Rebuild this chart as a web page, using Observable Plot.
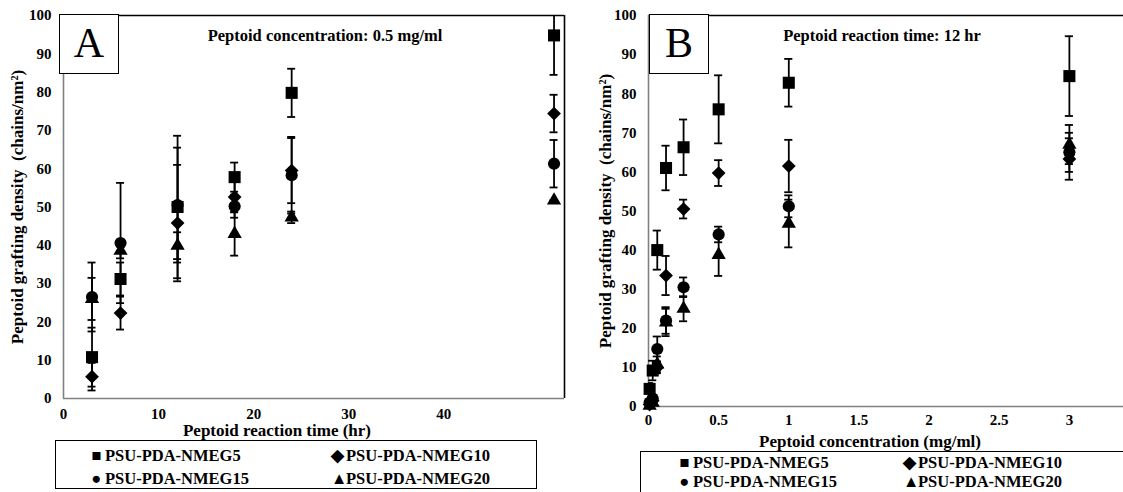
<!DOCTYPE html>
<html>
<head>
<meta charset="utf-8">
<script src="https://cdn.jsdelivr.net/npm/d3@7"></script>
<script src="https://cdn.jsdelivr.net/npm/@observablehq/plot@0.6"></script>
<style>
  html, body { margin: 0; padding: 0; background: #fff; }
  #root { position: relative; width: 1123px; height: 492px; overflow: hidden; font-family: "Liberation Serif", "Times New Roman", serif; }
  .panel { position: absolute; top: 0; }
  .letter { position: absolute; background: #fff; border: 1.5px solid #000; box-sizing: border-box;
            font-family: "Liberation Serif", serif; font-size: 42px; text-align: center; line-height: 57px; }
  .legend { position: absolute; border: 1px solid #000; box-sizing: border-box; background: #fff;
            font-family: "Liberation Serif", serif; font-weight: bold; font-size: 16.5px; }
  .legend .item { position: absolute; white-space: nowrap; line-height: 18px; }
  .legend .sym { display: inline-block; width: 13px; text-align: center; margin-right: 2px; }
</style>
</head>
<body>
<div id="root"></div>
<script>
// ---------- shared ----------
const seriesNames = ["PSU-PDA-NMEG5", "PSU-PDA-NMEG10", "PSU-PDA-NMEG15", "PSU-PDA-NMEG20"];
const seriesSymbols = ["square", "diamond2", "circle", "triangle"];
const legendGlyphs = ["■", "◆", "●", "▲"];
const yTicks = [0, 10, 20, 30, 40, 50, 60, 70, 80, 90, 100];

// ---------- panel A: concentration 0.5 mg/ml, x = reaction time (hr) ----------
const timeHr = [3, 6, 12, 18, 24, 51.6];
const xTicksA = [0, 10, 20, 30, 40];
const aNMEG5 = [10.8, 31.2, 50.0, 57.8, 79.8, 94.8];
const aNMEG5Err = [7.7, 4.3, 18.6, 3.8, 6.3, 10.3];
const aNMEG10 = [5.7, 22.3, 45.8, 52.6, 59.5, 74.4];
const aNMEG10Err = [3.6, 4.3, 15.2, 4.0, 8.5, 4.9];
const aNMEG15 = [26.5, 40.6, 50.5, 50.2, 58.3, 61.3];
const aNMEG15Err = [9.0, 15.7, 15.0, 3.0, 10.0, 6.2];
const aNMEG20 = [26.0, 38.6, 39.9, 43.0, 47.3, 51.7];
const aNMEG20Err = [5.5, 2.0, 3.5, 5.7, 1.5, 0.0];

// ---------- panel B: reaction time 12 hr, x = concentration (mg/ml) ----------
const concMgMl = [0.008, 0.03, 0.0625, 0.125, 0.25, 0.5, 1, 3];
const xTicksB = [0, 0.5, 1, 1.5, 2, 2.5, 3];
const bNMEG5 = [4.5, 9.2, 40.0, 61.0, 66.3, 76.0, 82.8, 84.5];
const bNMEG5Err = [1.5, 2.5, 5.0, 5.7, 7.1, 8.7, 6.1, 10.2];
const bNMEG10 = [0.5, 1.5, 10.0, 33.5, 50.5, 59.7, 61.5, 63.3];
const bNMEG10Err = [0.5, 1.0, 1.5, 5.0, 2.4, 3.3, 6.7, 5.3];
const bNMEG15 = [1.0, 2.0, 14.7, 22.0, 30.5, 44.0, 51.2, 65.0];
const bNMEG15Err = [0.5, 1.0, 3.2, 3.4, 2.5, 2.0, 2.8, 5.0];
const bNMEG20 = [0.2, 1.0, 10.8, 21.5, 25.0, 38.8, 46.8, 67.0];
const bNMEG20Err = [0.3, 0.8, 2.0, 3.5, 3.2, 5.4, 6.1, 5.0];

function buildRows(xs, vals, errs) {
  const rows = [];
  vals.forEach((v, s) => {
    xs.forEach((x, i) => {
      rows.push({series: seriesNames[s], si: s, x, y: v[i], lo: v[i] - errs[s][i], hi: v[i] + errs[s][i]});
    });
  });
  return rows;
}
const rowsA = buildRows(timeHr, [aNMEG5, aNMEG10, aNMEG15, aNMEG20], [aNMEG5Err, aNMEG10Err, aNMEG15Err, aNMEG20Err]);
const rowsB = buildRows(concMgMl, [bNMEG5, bNMEG10, bNMEG15, bNMEG20], [bNMEG5Err, bNMEG10Err, bNMEG15Err, bNMEG20Err]);

const symbolR = [6.8, 6.2, 6.1, 5.3];

function panel({rows, xDomain, xTicks, width, height, mL, mR, mT, mB, cap, title, titleDx, xLabel, xLabelDx, xLabelDy, yLabelDx, xTickDy, rightBorder}) {
  const marks = [
    Plot.ruleY([100], {stroke: "#000", strokeWidth: 1.6}),
    Plot.ruleX([0], {stroke: "#808080", strokeWidth: 1.6}),
    Plot.ruleY([0], {stroke: "#808080", strokeWidth: 1.6}),
  ];
  if (rightBorder) marks.push(Plot.ruleX([xDomain[1]], {stroke: "#000", strokeWidth: 1.6}));
  marks.push(
    Plot.text(xTicks, {x: d => d, frameAnchor: "bottom", dy: xTickDy, text: d => String(d), fontSize: 15, fontWeight: "bold", fill: "#000"}),
    Plot.axisY({ticks: yTicks, tickSize: 0, tickPadding: 12, label: null, fontSize: 15}),
    Plot.ruleX(rows, {x: "x", y1: "lo", y2: "hi", stroke: "#000", strokeWidth: 1.8, clip: true}),
    Plot.ruleY(rows, {y: "lo", x1: d => d.x - cap, x2: d => d.x + cap, stroke: "#000", strokeWidth: 1.8, clip: true}),
    Plot.ruleY(rows, {y: "hi", x1: d => d.x - cap, x2: d => d.x + cap, stroke: "#000", strokeWidth: 1.8, clip: true})
  );
  seriesNames.forEach((name, s) => {
    marks.push(Plot.dot(rows.filter(d => d.si === s), {x: "x", y: "y", symbol: () => seriesSymbols[s], r: symbolR[s], fill: "#000", stroke: "none"}));
  });
  marks.push(
    Plot.text([title], {frameAnchor: "top", dx: titleDx, dy: 14, fontSize: 16.5, fontWeight: "bold", fill: "#000"}),
    Plot.text([xLabel], {frameAnchor: "bottom", dx: xLabelDx, dy: xLabelDy, fontSize: 17, fontWeight: "bold", fill: "#000"}),
    Plot.text(["Peptoid grafting density  (chains/nm²)"], {frameAnchor: "left", textAnchor: "middle", rotate: -90, dx: yLabelDx, fontSize: 17, fontWeight: "bold", fill: "#000"})
  );
  return Plot.plot({
    width, height, marginLeft: mL, marginRight: mR, marginTop: mT, marginBottom: mB,
    x: {domain: xDomain, axis: null},
    y: {domain: [0, 100]},
    symbol: {type: "identity"},
    style: {fontFamily: "Liberation Serif, serif", fontSize: "15px", fontWeight: "bold", color: "#000", background: "transparent", overflow: "visible"},
    marks
  });
}

const root = document.getElementById("root");

const plotA = panel({
  rows: rowsA, xDomain: [0, 52.7], xTicks: xTicksA, width: 570, height: 440,
  mL: 63, mR: 6, mT: 15, mB: 42, cap: 0.42, xTickDy: 20,
  title: "Peptoid concentration: 0.5 mg/ml", titleDx: 11,
  xLabel: "Peptoid reaction time (hr)", xLabelDx: -37, xLabelDy: 37, yLabelDx: -46, rightBorder: true
});
plotA.classList.add("panel"); plotA.style.left = "0px";
root.appendChild(plotA);

const plotB = panel({
  rows: rowsB, xDomain: [0, 3.4], xTicks: xTicksB, width: 562, height: 450,
  mL: 85, mR: 0, mT: 15, mB: 44, cap: 0.029, xTickDy: 18,
  title: "Peptoid reaction time: 12 hr", titleDx: -5,
  xLabel: "Peptoid concentration (mg/ml)", xLabelDx: -17, xLabelDy: 40, yLabelDx: -43, rightBorder: false
});
plotB.classList.add("panel"); plotB.style.left = "563px";
root.appendChild(plotB);

// letter boxes
function letter(txt, left) {
  const d = document.createElement("div");
  d.className = "letter"; d.textContent = txt;
  Object.assign(d.style, {left: left + "px", top: "14px", width: "60px", height: "60px"});
  root.appendChild(d);
}
letter("A", 59);
letter("B", 649);

// legends
function legend(left, top, width, height, rows, cols) {
  const box = document.createElement("div");
  box.className = "legend";
  Object.assign(box.style, {left: left + "px", top: top + "px", width: width + "px", height: height + "px"});
  seriesNames.forEach((name, i) => {
    const it = document.createElement("div");
    it.className = "item";
    it.style.left = cols[i % 2] + "px";
    it.style.top = rows[Math.floor(i / 2)] + "px";
    const sym = document.createElement("span");
    sym.className = "sym"; sym.textContent = legendGlyphs[i];
    it.appendChild(sym);
    it.appendChild(document.createTextNode(name));
    box.appendChild(it);
  });
  root.appendChild(box);
}
legend(55, 440, 482, 49, [6, 29], [34, 275]);
legend(640, 451, 500, 60, [2, 21], [37, 262]);
</script>
</body>
</html>
